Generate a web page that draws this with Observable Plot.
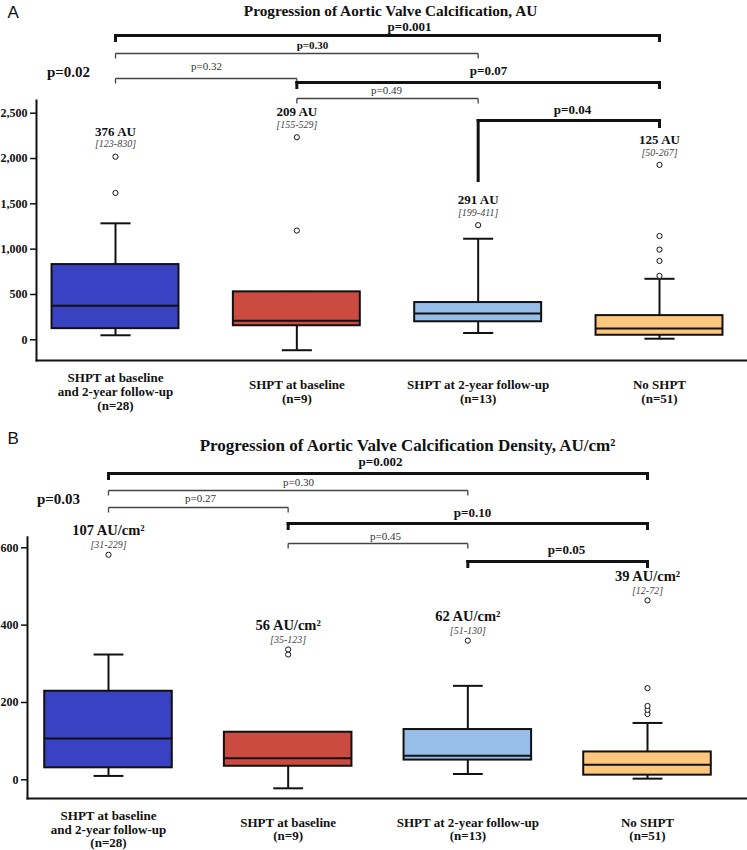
<!DOCTYPE html>
<html><head><meta charset="utf-8">
<script src="https://cdn.jsdelivr.net/npm/d3@7"></script>
<script src="https://cdn.jsdelivr.net/npm/@observablehq/plot@0.6"></script>
<style>
body{margin:0;background:#fff;}
#chart svg{display:block;}
</style></head><body><div id="chart"></div>
<script>
// ---------- shared ----------
const categories = [
  "SHPT at baseline\nand 2-year follow-up\n(n=28)",
  "SHPT at baseline\n(n=9)",
  "SHPT at 2-year follow-up\n(n=13)",
  "No SHPT\n(n=51)"
];
const boxColors = ["#3a42c4", "#cc4b40", "#96bee9", "#ffc77d"];

// ---------- panel A: AU ----------
const auTitle = "Progression of Aortic Valve Calcification, AU";
const auTicks = [0, 500, 1000, 1500, 2000, 2500];
const auMedian = [376, 209, 291, 125];
const auQ1 = [123, 155, 199, 50];
const auQ3 = [830, 529, 411, 267];
const auWhiskerLow = [50, -115, 75, 12];
const auWhiskerHigh = [1285, 529, 1115, 673];
const auOutliers = [[1620, 2020], [1205, 2235], [1265], [705, 870, 995, 1145, 1930]];
const auLabels = ["376 AU", "209 AU", "291 AU", "125 AU"];
const auRanges = ["[123-830]", "[155-529]", "[199-411]", "[50-267]"];
const auCompFrom = [0, 0, 0, 1, 1, 2];
const auCompTo = [3, 2, 1, 3, 2, 3];
const auCompP = ["p=0.001", "p=0.30", "p=0.32", "p=0.07", "p=0.49", "p=0.04"];
const auOverallP = "p=0.02";

// ---------- panel B: AU/cm² ----------
const densTitle = "Progression of Aortic Valve Calcification Density, AU/cm²";
const densTicks = [0, 200, 400, 600];
const densMedian = [107, 56, 62, 39];
const densQ1 = [31, 35, 51, 12];
const densQ3 = [229, 123, 130, 72];
const densWhiskerLow = [10, -22, 15, 3];
const densWhiskerHigh = [324, 123, 243, 147];
const densOutliers = [[582], [324, 337], [360], [170, 181, 191, 237, 464]];
const densLabels = ["107 AU/cm²", "56 AU/cm²", "62 AU/cm²", "39 AU/cm²"];
const densRanges = ["[31-229]", "[35-123]", "[51-130]", "[12-72]"];
const densCompFrom = [0, 0, 0, 1, 1, 2];
const densCompTo = [3, 2, 1, 3, 2, 3];
const densCompP = ["p=0.002", "p=0.30", "p=0.27", "p=0.10", "p=0.45", "p=0.05"];
const densOverallP = "p=0.03";

const SERIF = "'Liberation Serif', 'Times New Roman', serif";
const SANS = "'Liberation Sans', Arial, sans-serif";

function panel(cfg, layout) {
  const xs = d3.scaleLinear([0, 3], layout.xRange);
  const ys = d3.scaleLinear(cfg.yDomain, layout.yRange);
  const X = px => xs.invert(px);
  const Y = px => ys.invert(px - layout.offset);
  const hw = layout.boxHalf, cap = layout.capHalf;

  const boxes = categories.map((c, i) => ({
    i, cat: c, q1: cfg.q1[i], q3: cfg.q3[i], med: cfg.median[i],
    lo: cfg.lo[i], hi: cfg.hi[i], color: boxColors[i],
    label: cfg.labels[i], range: cfg.ranges[i],
    top: Math.max(cfg.hi[i], ...cfg.outliers[i])
  }));
  const points = cfg.outliers.flatMap((arr, i) => arr.map(v => ({i, v})));

  const segsThick = [], segsThin = [], texts = [];
  cfg.from.forEach((f, k) => {
    const L = layout.brackets[k];
    const t = cfg.to[k];
    const yl = Y(L.line);
    const seg = L.thick ? segsThick : segsThin;
    seg.push({x1: f, x2: t, y1: yl, y2: yl});
    seg.push({x1: f, x2: f, y1: yl, y2: Y(L.line + L.tickL)});
    seg.push({x1: t, x2: t, y1: yl, y2: Y(L.line + L.tickR)});
    texts.push({x: X(L.tx), y: Y(L.ty), text: cfg.p[k], size: L.size, bold: L.bold});
  });
  texts.push({x: X(layout.overall.x), y: Y(layout.overall.y), text: cfg.overall, size: 15, bold: true});

  return Plot.plot({
    width: 747, height: 425,
    marginLeft: layout.marginLeft, marginRight: 0,
    marginTop: layout.marginTop, marginBottom: layout.marginBottom,
    style: {background: "#fff", overflow: "visible"},
    x: {type: "linear", domain: [0, 3], range: layout.xRange, axis: null},
    y: {domain: cfg.yDomain, range: layout.yRange, axis: null},
    marks: [
      Plot.frame({anchor: "left", stroke: "#111", strokeWidth: 2}),
      Plot.frame({anchor: "bottom", stroke: "#111", strokeWidth: 2}),
      Plot.axisY({ticks: cfg.ticks, tickFormat: d3.format(","), tickSize: 6, tickPadding: 3,
        fontSize: 12, fontWeight: "bold", fontFamily: SERIF, label: null, stroke: "#111", strokeWidth: 1.5, fill: "#111"}),
      // category labels
      Plot.text(boxes, {x: "i", y: () => Y(layout.catY), text: "cat", lineAnchor: "middle",
        lineHeight: layout.catLH, fontSize: 13, fontWeight: "bold", fontFamily: SERIF, fill: "#111"}),
      // whiskers
      Plot.ruleX(boxes, {x: "i", y1: "lo", y2: "q1", stroke: "#111", strokeWidth: 2}),
      Plot.ruleX(boxes, {x: "i", y1: "q3", y2: "hi", stroke: "#111", strokeWidth: 2}),
      Plot.link(boxes, {x1: d => d.i - cap, x2: d => d.i + cap, y1: "lo", y2: "lo", stroke: "#111", strokeWidth: 2}),
      Plot.link(boxes, {x1: d => d.i - cap, x2: d => d.i + cap, y1: "hi", y2: "hi", stroke: "#111", strokeWidth: 2}),
      // boxes
      Plot.rect(boxes, {x1: d => d.i - hw, x2: d => d.i + hw, y1: "q1", y2: "q3", fill: d => d.color, stroke: "#111", strokeWidth: 2}),
      Plot.link(boxes, {x1: d => d.i - hw, x2: d => d.i + hw, y1: "med", y2: "med", stroke: "#111", strokeWidth: 2}),
      // outliers
      Plot.dot(points, {x: "i", y: "v", r: 2.6, fill: "white", stroke: "#111", strokeWidth: 1}),
      // box labels
      Plot.text(boxes, {x: "i", y: "top", text: "label", dy: layout.labelDy, fontSize: layout.labelSize,
        fontWeight: "bold", fontFamily: SERIF, fill: "#111"}),
      Plot.text(boxes, {x: "i", y: "top", text: "range", dy: layout.rangeDy, fontSize: 10,
        fontStyle: "italic", fontFamily: SERIF, fill: "#444"}),
      // brackets
      Plot.link(segsThin, {x1: "x1", x2: "x2", y1: "y1", y2: "y2", stroke: "#444", strokeWidth: 1.3}),
      Plot.link(segsThick, {x1: "x1", x2: "x2", y1: "y1", y2: "y2", stroke: "#111", strokeWidth: 3, strokeLinecap: "square"}),
      Plot.text(texts.filter(d => d.bold), {x: "x", y: "y", text: "text", fontSize: "size", fontWeight: "bold", fontFamily: SERIF, fill: "#111"}),
      Plot.text(texts.filter(d => !d.bold), {x: "x", y: "y", text: "text", fontSize: "size", fontFamily: SERIF, fill: "#333"}),
      // title & letter
      Plot.text([cfg.title], {x: () => X(layout.titleX), y: () => Y(layout.titleY), text: d => d,
        fontSize: layout.titleSize, fontWeight: "bold", fontFamily: SERIF, fill: "#111"}),
      Plot.text([cfg.letter], {x: () => X(layout.letterX), y: () => Y(layout.letterY), text: d => d,
        fontSize: 17, fontFamily: SANS, fill: "#111", textAnchor: "start"})
    ]
  });
}

const chart = document.getElementById("chart");

chart.append(panel({
  title: auTitle, letter: "A", yDomain: [0, 2500], ticks: auTicks,
  median: auMedian, q1: auQ1, q3: auQ3, lo: auWhiskerLow, hi: auWhiskerHigh,
  outliers: auOutliers, labels: auLabels, ranges: auRanges,
  from: auCompFrom, to: auCompTo, p: auCompP, overall: auOverallP
}, {
  offset: 0, marginLeft: 36, marginTop: 100, marginBottom: 65,
  xRange: [115, 659], yRange: [339.3, 112.7], boxHalf: 0.35, capHalf: 0.083,
  catY: 391, catLH: 1.06, labelDy: -25, rangeDy: -12.5, labelSize: 13,
  titleX: 390, titleY: 11, titleSize: 15.3, letterX: 7, letterY: 12,
  overall: {x: 68, y: 72},
  brackets: [
    {line: 35, ty: 26, tx: 409, thick: true, bold: true, size: 13, tickL: 5, tickR: 5},
    {line: 53, ty: 45, tx: 312, thick: false, bold: true, size: 11, tickL: 5, tickR: 5},
    {line: 78, ty: 66, tx: 206, thick: false, bold: false, size: 11, tickL: 5, tickR: 5},
    {line: 82, ty: 70, tx: 488, thick: true, bold: true, size: 13, tickL: 5, tickR: 5},
    {line: 98, ty: 90, tx: 386, thick: false, bold: false, size: 11, tickL: 5, tickR: 5},
    {line: 120, ty: 109, tx: 572, thick: true, bold: true, size: 13, tickL: 60, tickR: 6}
  ]
}));

chart.append(panel({
  title: densTitle, letter: "B", yDomain: [0, 600], ticks: densTicks,
  median: densMedian, q1: densQ1, q3: densQ3, lo: densWhiskerLow, hi: densWhiskerHigh,
  outliers: densOutliers, labels: densLabels, ranges: densRanges,
  from: densCompFrom, to: densCompTo, p: densCompP, overall: densOverallP
}, {
  offset: 425, marginLeft: 27, marginTop: 111.7, marginBottom: 52,
  xRange: [108, 647], yRange: [354.3, 122.3], boxHalf: 0.355, capHalf: 0.083,
  catY: 829, catLH: 1.03, labelDy: -24, rangeDy: -10, labelSize: 14.5,
  titleX: 407, titleY: 445, titleSize: 17, letterX: 7, letterY: 438,
  overall: {x: 58, y: 499},
  brackets: [
    {line: 473, ty: 461, tx: 380, thick: true, bold: true, size: 13, tickL: 5, tickR: 5},
    {line: 490, ty: 482, tx: 298, thick: false, bold: false, size: 11, tickL: 5, tickR: 5},
    {line: 507, ty: 498, tx: 200, thick: false, bold: false, size: 11, tickL: 5, tickR: 5},
    {line: 523, ty: 512, tx: 472, thick: true, bold: true, size: 13, tickL: 5, tickR: 5},
    {line: 543, ty: 536, tx: 385, thick: false, bold: false, size: 11, tickL: 5, tickR: 5},
    {line: 561, ty: 549, tx: 566, thick: true, bold: true, size: 13, tickL: 5, tickR: 5}
  ]
}));
</script></body></html>
